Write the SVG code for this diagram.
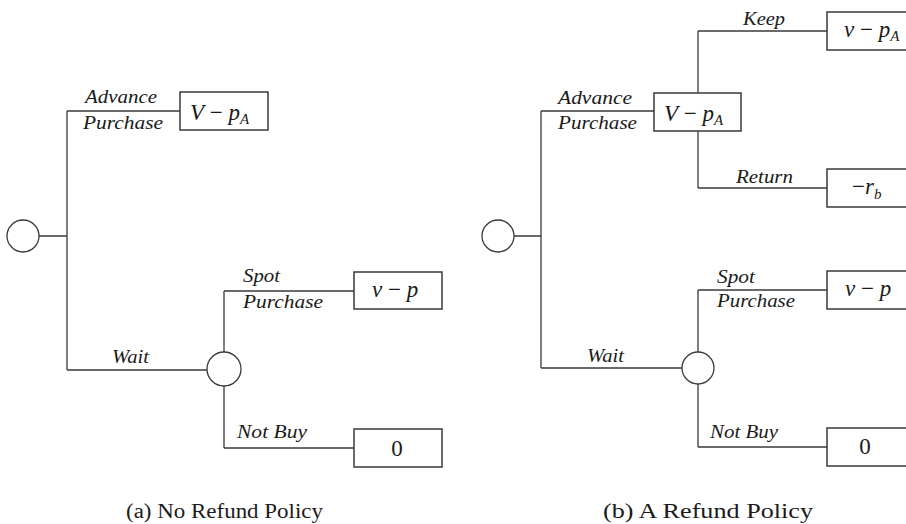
<svg xmlns="http://www.w3.org/2000/svg" width="906" height="524" viewBox="0 0 906 524">
<style>
.ln{fill:none;stroke:#3a3a3a;stroke-width:1.3}
.bx{fill:#fff;stroke:#3a3a3a;stroke-width:1.5}
.ci{fill:#fff;stroke:#3a3a3a;stroke-width:1.3}
.lb{font-family:"Liberation Serif",serif;font-style:italic;font-size:19.5px;fill:#1a1a1a}
.mt{font-family:"Liberation Serif",serif;font-size:23px;fill:#1a1a1a}
.mi{font-style:italic}
.sb{font-size:15px;font-style:italic}
.cp{font-family:"Liberation Serif",serif;font-size:20px;fill:#1a1a1a}
</style>
<rect width="906" height="524" fill="#fff"/>
<g id="connectors">
<path class="ln" d="M39 236H67M67 111V370M67 111H180M67 370H207M224 291V352M224 386V448M224 291H354M224 448H354"/>
<path class="ln" d="M514 236H541M541 111V368M541 111H654M541 368H682M698 31V93M698 131V188M698 31H827M698 188H827M698 290V352M698 384V447M698 290H827M698 447H827"/>
</g>
<g id="a-root"><circle class="ci" cx="23" cy="236" r="16"/></g>
<g id="a-advance"><rect class="bx" x="180" y="92" width="88" height="38"/><text class="mt" x="190" y="120"><tspan class="mi">V</tspan> − <tspan class="mi">p</tspan><tspan class="sb" dy="4">A</tspan></text></g>
<g id="a-wait"><circle class="ci" cx="224" cy="369" r="17"/></g>
<g id="a-spot"><rect class="bx" x="354" y="272" width="88" height="37"/><text class="mt" x="372" y="297"><tspan class="mi">v</tspan> − <tspan class="mi">p</tspan></text></g>
<g id="a-notbuy"><rect class="bx" x="354" y="429" width="88" height="38"/><text class="mt" x="397" y="456" text-anchor="middle">0</text></g>
<g id="a-labels">
<text class="lb" x="85" y="103" textLength="72" lengthAdjust="spacingAndGlyphs">Advance</text>
<text class="lb" x="83" y="129" textLength="80" lengthAdjust="spacingAndGlyphs">Purchase</text>
<text class="lb" x="112" y="363" textLength="37" lengthAdjust="spacingAndGlyphs">Wait</text>
<text class="lb" x="243" y="282" textLength="37" lengthAdjust="spacingAndGlyphs">Spot</text>
<text class="lb" x="243" y="308" textLength="80" lengthAdjust="spacingAndGlyphs">Purchase</text>
<text class="lb" x="237" y="438" textLength="70" lengthAdjust="spacingAndGlyphs">Not Buy</text>
</g>
<g id="b-root"><circle class="ci" cx="498" cy="236" r="16"/></g>
<g id="b-advance"><rect class="bx" x="654" y="93" width="87" height="38"/><text class="mt" x="664" y="121"><tspan class="mi">V</tspan> − <tspan class="mi">p</tspan><tspan class="sb" dy="4">A</tspan></text></g>
<g id="b-keep"><rect class="bx" x="827" y="12" width="92" height="38"/><text class="mt" x="844" y="37"><tspan class="mi">v</tspan> − <tspan class="mi">p</tspan><tspan class="sb" dy="4">A</tspan></text></g>
<g id="b-return"><rect class="bx" x="827" y="169" width="92" height="38"/><text class="mt" x="852" y="194">−<tspan class="mi">r</tspan><tspan class="sb" dy="5">b</tspan></text></g>
<g id="b-wait"><circle class="ci" cx="698" cy="368" r="16"/></g>
<g id="b-spot"><rect class="bx" x="827" y="271" width="92" height="38"/><text class="mt" x="845" y="296"><tspan class="mi">v</tspan> − <tspan class="mi">p</tspan></text></g>
<g id="b-notbuy"><rect class="bx" x="827" y="428" width="92" height="38"/><text class="mt" x="865" y="454" text-anchor="middle">0</text></g>
<g id="b-labels">
<text class="lb" x="558" y="104" textLength="74" lengthAdjust="spacingAndGlyphs">Advance</text>
<text class="lb" x="558" y="129" textLength="79" lengthAdjust="spacingAndGlyphs">Purchase</text>
<text class="lb" x="743" y="25" textLength="42" lengthAdjust="spacingAndGlyphs">Keep</text>
<text class="lb" x="736" y="183" textLength="57" lengthAdjust="spacingAndGlyphs">Return</text>
<text class="lb" x="587" y="362" textLength="37" lengthAdjust="spacingAndGlyphs">Wait</text>
<text class="lb" x="717" y="283" textLength="38" lengthAdjust="spacingAndGlyphs">Spot</text>
<text class="lb" x="717" y="307" textLength="78" lengthAdjust="spacingAndGlyphs">Purchase</text>
<text class="lb" x="710" y="438" textLength="68" lengthAdjust="spacingAndGlyphs">Not Buy</text>
</g>
<g id="captions">
<text class="cp" x="126" y="518" textLength="197" lengthAdjust="spacingAndGlyphs">(a) No Refund Policy</text>
<text class="cp" x="603" y="518" textLength="210" lengthAdjust="spacingAndGlyphs">(b) A Refund Policy</text>
</g>
</svg>
